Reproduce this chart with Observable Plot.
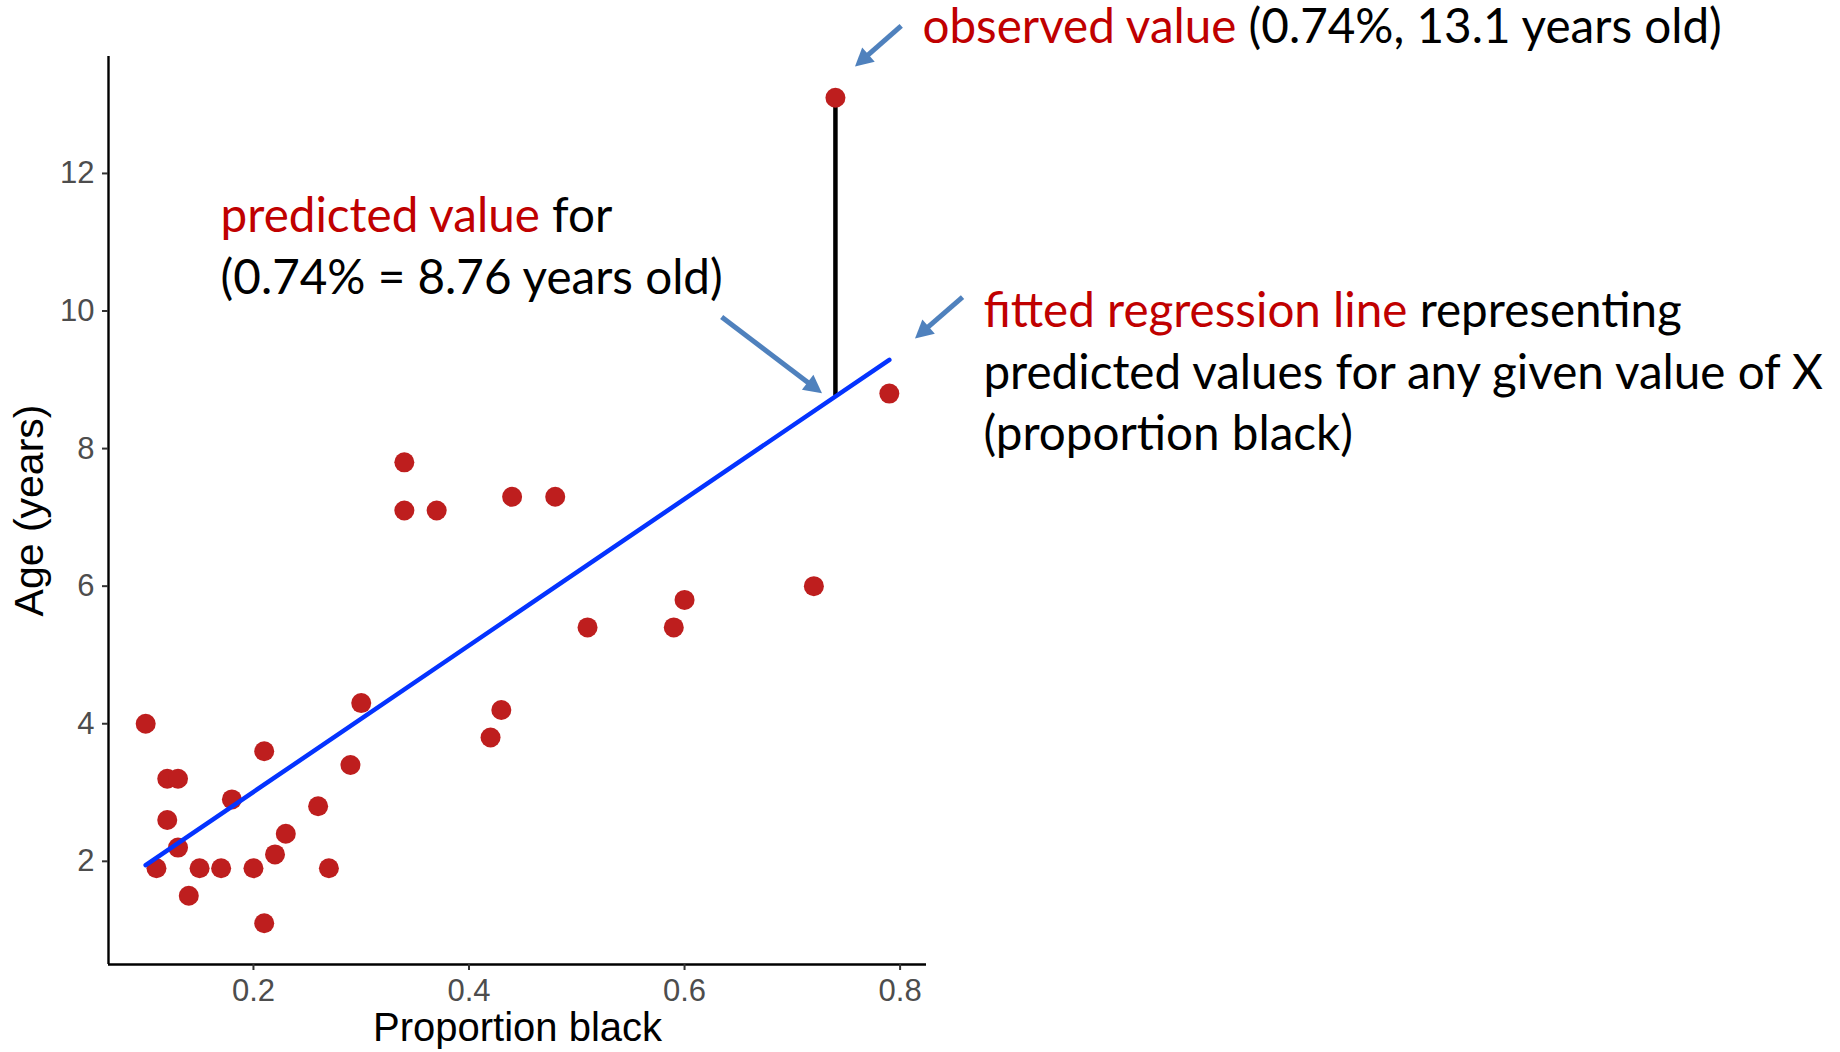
<!DOCTYPE html>
<html><head><meta charset="utf-8">
<script src="https://cdn.jsdelivr.net/npm/d3@7"></script>
<script src="https://cdn.jsdelivr.net/npm/@observablehq/plot@0.6"></script>
<style>html,body{margin:0;padding:0;background:#fff;} svg{display:block}</style>
</head><body><div id="chart"></div>
<script>
// ---- data ----
const proportionBlack = [0.10,0.11,0.12,0.13,0.12,0.13,0.14,0.15,0.17,0.18,0.20,0.21,0.21,0.22,0.23,0.26,0.27,0.29,0.30,0.34,0.34,0.37,0.42,0.43,0.44,0.48,0.51,0.59,0.60,0.72,0.74,0.79];
const ageYears        = [4.0,1.9,3.2,3.2,2.6,2.2,1.5,1.9,1.9,2.9,1.9,3.6,1.1,2.1,2.4,2.8,1.9,3.4,4.3,7.8,7.1,7.1,3.8,4.2,7.3,7.3,5.4,5.4,5.8,6.0,13.1,8.8];
const xTicks = [0.2, 0.4, 0.6, 0.8];
const yTicks = [2, 4, 6, 8, 10, 12];
const xTitle = "Proportion black";
const yTitle = "Age (years)";
const observedPoint  = {x: 0.74, y: 13.1};
const predictedPoint = {x: 0.74, y: 8.76};
// annotation text blocks: first-line baseline anchor (data units), lines of [red part, black part]
const annotationText = [
  {x: 0.8212, y: 13.883, lines: [["observed value", " (0.74%, 13.1 years old)"]]},
  {x: 0.1700, y: 11.14,  lines: [["predicted value", " for"], ["", "(0.74% = 8.76 years old)"]]},
  {x: 0.8778, y: 9.758,  lines: [["fitted regression line", " representing"], ["", "predicted values for any given value of X"], ["", "(proportion black)"]]}
];
// annotation arrows: tail (x1,y1) -> tip (x2,y2), data units
const annotationArrows = [
  {x1: 0.8015, y1: 14.139, x2: 0.7586, y2: 13.547},
  {x1: 0.6349, y1: 9.907,  x2: 0.7280, y2: 8.798},
  {x1: 0.8584, y1: 10.195, x2: 0.8143, y2: 9.594}
];

// ---- styles ----
const pointColor = "#BE1E1E";
const lineColor = "#0433FF";
const red = "#C00000";
const arrowColor = "#4F81BD";

const points = proportionBlack.map((x, i) => ({x, y: ageYears[i]}));
// ggplot-style 5% expansion of the data extent
const expand = ([a, b]) => [a - (b - a) * 0.05, b + (b - a) * 0.05];
const xDomain = expand(d3.extent(proportionBlack));
const yDomain = expand(d3.extent(ageYears));

const plot = Plot.plot({
  width: 1840,
  height: 1052,
  marginLeft: 108,
  marginRight: 914,
  marginTop: 56,
  marginBottom: 88,
  style: {fontFamily: "'Liberation Sans', Arial, sans-serif", background: "white", overflow: "visible"},
  x: {domain: xDomain},
  y: {domain: yDomain},
  marks: [
    Plot.ruleY([yDomain[0]], {stroke: "black", strokeWidth: 2.4}),
    Plot.ruleX([xDomain[0]], {stroke: "black", strokeWidth: 2.4}),
    Plot.axisX({ticks: xTicks, tickSize: 6, tickPadding: 8, fontSize: 31, fill: "#4d4d4d", stroke: "#333", strokeWidth: 2, label: null}),
    Plot.axisY({ticks: yTicks, tickSize: 6, tickPadding: 8, fontSize: 31, fill: "#4d4d4d", stroke: "#333", strokeWidth: 2, label: null}),
    Plot.text([xTitle], {text: d => d, frameAnchor: "bottom", textAnchor: "middle", dy: 64, fontSize: 40, fill: "black", lineAnchor: "middle"}),
    Plot.text([yTitle], {text: d => d, frameAnchor: "left", textAnchor: "middle", dx: -79, rotate: -90, fontSize: 41, fill: "black", lineAnchor: "middle"}),
    Plot.ruleX([predictedPoint], {x: "x", y1: () => predictedPoint.y, y2: () => observedPoint.y, stroke: "black", strokeWidth: 4.5}),
    Plot.dot(points, {x: "x", y: "y", r: 10, fill: pointColor, stroke: "none"}),
    Plot.linearRegressionY(points, {x: "x", y: "y", ci: 0, stroke: lineColor, strokeWidth: 4.5})
  ]
});

// ---- annotations drawn through the plot's own scales ----
const sx = plot.scale("x"), sy = plot.scale("y");
const svg = d3.select(plot);
const ann = svg.append("g");
for (const a of annotationArrows) {
  const ax = sx.apply(a.x1), ay = sy.apply(a.y1), bx = sx.apply(a.x2), by = sy.apply(a.y2);
  const len = Math.hypot(bx - ax, by - ay), ux = (bx - ax) / len, uy = (by - ay) / len;
  const L = 18, W = 9.5;
  const cx = bx - ux * L, cy = by - uy * L;
  ann.append("line").attr("x1", ax).attr("y1", ay).attr("x2", cx + ux * 2).attr("y2", cy + uy * 2)
    .attr("stroke", arrowColor).attr("stroke-width", 5);
  ann.append("path").attr("d", `M${bx},${by}L${cx - uy * W},${cy + ux * W}L${cx + uy * W},${cy - ux * W}Z`)
    .attr("fill", arrowColor);
}
const lineHeight = 61.5;
for (const t of annotationText) {
  const x0 = sx.apply(t.x), y0 = sy.apply(t.y);
  t.lines.forEach(([r, b], i) => {
    const txt = ann.append("text").attr("x", x0).attr("y", y0 + i * lineHeight)
      .attr("text-anchor", "start")
      .attr("font-family", "Lato, 'Open Sans', sans-serif").attr("font-size", 47.6)
      .style("white-space", "pre");
    if (r) txt.append("tspan").attr("fill", red).text(r);
    txt.append("tspan").attr("fill", "black").text(b);
  });
}
document.getElementById("chart").appendChild(plot);
</script>
</body></html>
